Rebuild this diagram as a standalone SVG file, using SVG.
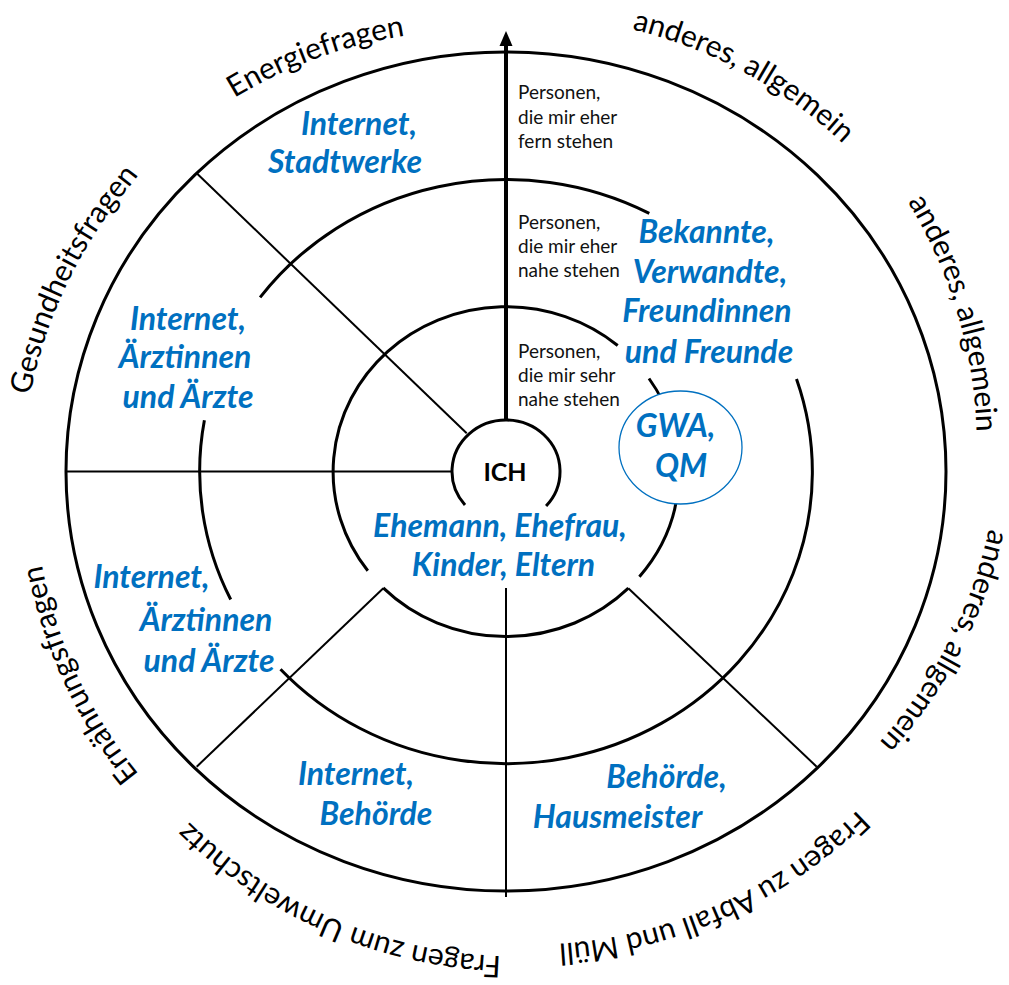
<svg xmlns="http://www.w3.org/2000/svg" width="1009" height="985" viewBox="0 0 1009 985">
<style>
.ring{fill:none;stroke:#000;stroke-width:3}
.thin{fill:none;stroke:#000;stroke-width:2}
.lbl{font-family:Lato,"Liberation Sans",sans-serif;font-size:30px;fill:#000}
.blue{font-family:Lato,"Liberation Sans",sans-serif;font-size:32px;font-weight:bold;font-style:italic;fill:#0070C0;text-anchor:middle}
.small{font-family:Lato,"Liberation Sans",sans-serif;font-size:19px;fill:#111}
</style>
<defs>
<path id="p1" d="M220.4 108.5 L240.9 94.1 A470 470 0 0 1 397.4 36.8 L421.7 30.7"/>
<path id="p2" d="M611.3 23.0 L635.3 30.0 A470 470 0 0 1 840.7 141.6 L858.2 159.4"/>
<path id="p3" d="M897.1 186.2 L910.8 207.1 A470 470 0 0 1 976.3 425.7 L978.7 450.6"/>
<path id="p4" d="M990.7 510.5 L987.4 535.3 A466 466 0 0 1 883.3 737.7 L869.0 757.9"/>
<path id="p5" d="M872.8 794.1 L855.3 812.0 A470 470 0 0 1 562.1 943.4 L537.3 946.4"/>
<path id="p6" d="M522.5 956.4 L497.5 956.0 A470 470 0 0 1 191.4 824.1 L172.8 807.5"/>
<path id="p7" d="M149.9 787.9 L134.3 768.4 A470 470 0 0 1 43.5 572.5 L38.2 548.1"/>
<path id="p8" d="M27.7 410.2 L32.2 385.6 A470 470 0 0 1 132.8 182.6 L148.1 162.8"/>
</defs>
<rect width="1009" height="985" fill="#fff"/>

<g id="rings">
<ellipse class="ring" cx="506" cy="471.5" rx="440" ry="419.5"/>
<path class="ring" d="M796.5 378.9 A306.3 292 0 0 1 280.5 669.2"/>
<path class="ring" d="M230.7 599.5 A306.3 292 0 0 1 204.4 420.3"/>
<path class="ring" d="M260.1 297.4 A306.3 292 0 0 1 649.3 213.4"/>
<path class="ring" d="M649.0 378.5 A173.1 165 0 0 1 639.4 576.7"/>
<path class="ring" d="M628.4 588.2 A173.1 165 0 0 1 383.2 587.8"/>
<path class="ring" d="M367.8 570.8 A173.1 165 0 0 1 617.7 345.5"/>
</g>

<g id="connectors">
<line class="thin" x1="66" y1="471.5" x2="452" y2="471.5"/>
<line class="thin" x1="196.7" y1="173.3" x2="466.7" y2="433.3"/>
<line class="thin" x1="196.7" y1="766.7" x2="383.3" y2="588.3"/>
<line class="thin" x1="628.3" y1="588.3" x2="816.7" y2="766.7"/>
<line class="thin" x1="506" y1="588" x2="506" y2="897"/>
<line x1="506" y1="420" x2="506" y2="44" stroke="#000" stroke-width="4"/>
<polygon points="506,31 499.5,46 512.5,46" fill="#000"/>
</g>

<g id="ich">
<path class="ring" d="M465 505 A54 51.5 0 1 1 546.1 506"/>
<text x="505" y="481" font-family="Lato,'Liberation Sans',sans-serif" font-size="25" font-weight="bold" text-anchor="middle">ICH</text>
</g>

<g id="gwa">
<ellipse cx="680.5" cy="447.5" rx="61.5" ry="56.5" fill="#fff" stroke="#0070C0" stroke-width="1.3"/>
<text class="blue" x="675.5" y="437">GWA,</text>
<text class="blue" x="681" y="477">QM</text>
</g>

<g id="axis-labels">
<text class="small" x="518" y="99">Personen,</text>
<text class="small" x="518" y="123.5">die mir eher</text>
<text class="small" x="518" y="148">fern stehen</text>
<text class="small" x="518" y="229">Personen,</text>
<text class="small" x="518" y="252.5">die mir eher</text>
<text class="small" x="518" y="277">nahe stehen</text>
<text class="small" x="518" y="357.5">Personen,</text>
<text class="small" x="518" y="381.5">die mir sehr</text>
<text class="small" x="518" y="406">nahe stehen</text>
</g>

<g id="energie-inner">
<text class="blue" x="359" y="135">Internet,</text>
<text class="blue" x="345" y="173">Stadtwerke</text>
</g>
<g id="gesundheit-inner">
<text class="blue" x="188" y="330">Internet,</text>
<text class="blue" x="185" y="368">Ärztinnen</text>
<text class="blue" x="188" y="408">und Ärzte</text>
</g>
<g id="ernaehrung-inner">
<text class="blue" x="151.5" y="588">Internet,</text>
<text class="blue" x="206" y="631">Ärztinnen</text>
<text class="blue" x="209" y="671.5">und Ärzte</text>
</g>
<g id="umwelt-inner">
<text class="blue" x="356" y="785">Internet,</text>
<text class="blue" x="376" y="824.5">Behörde</text>
</g>
<g id="abfall-inner">
<text class="blue" x="666.5" y="788">Behörde,</text>
<text class="blue" x="617.5" y="828">Hausmeister</text>
</g>
<g id="family">
<text class="blue" x="500" y="537">Ehemann, Ehefrau,</text>
<text class="blue" x="503.5" y="576">Kinder, Eltern</text>
</g>
<g id="friends">
<text class="blue" x="706.5" y="243">Bekannte,</text>
<text class="blue" x="710" y="283">Verwandte,</text>
<text class="blue" x="707" y="322">Freundinnen</text>
<text class="blue" x="709" y="363">und Freunde</text>
</g>

<g id="sector-labels">
<text class="lbl"><textPath href="#p1" startOffset="50%" text-anchor="middle">Energiefragen</textPath></text>
<text class="lbl"><textPath href="#p2" startOffset="50%" text-anchor="middle">anderes, allgemein</textPath></text>
<text class="lbl"><textPath href="#p3" startOffset="50%" text-anchor="middle">anderes, allgemein</textPath></text>
<text class="lbl"><textPath href="#p4" startOffset="50%" text-anchor="middle">anderes, allgemein</textPath></text>
<text class="lbl"><textPath href="#p5" startOffset="50%" text-anchor="middle">Fragen zu Abfall und Müll</textPath></text>
<text class="lbl"><textPath href="#p6" startOffset="50%" text-anchor="middle">Fragen zum Umweltschutz</textPath></text>
<text class="lbl"><textPath href="#p7" startOffset="50%" text-anchor="middle">Ernährungsfragen</textPath></text>
<text class="lbl"><textPath href="#p8" startOffset="50%" text-anchor="middle">Gesundheitsfragen</textPath></text>
</g>
</svg>
